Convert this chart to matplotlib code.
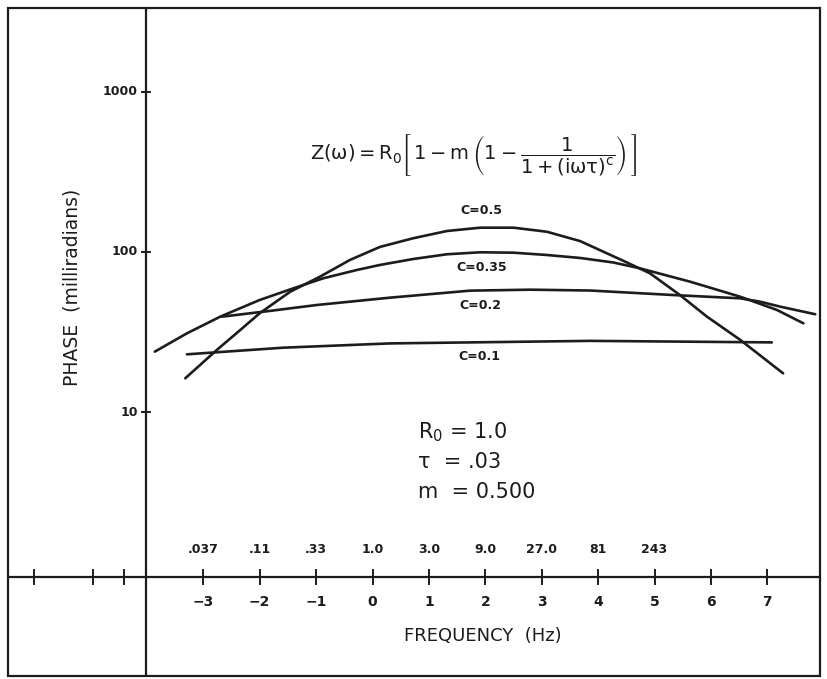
import matplotlib
matplotlib.use("Agg")
import matplotlib.pyplot as plt
import matplotlib.transforms as mtransforms
from matplotlib.patches import Rectangle

# ---------------- data ----------------
# x is log3 of frequency (0 -> 1.0 Hz, 1 -> 3.0 Hz, ...), y is phase in milliradians
x_ticks = [-3, -2, -1, 0, 1, 2, 3, 4, 5, 6, 7]
x_tick_labels = ["\u22123", "\u22122", "\u22121", "0", "1", "2", "3", "4", "5", "6", "7"]
freq_ticks = [-3, -2, -1, 0, 1, 2, 3, 4, 5]
freq_labels = [".037", ".11", ".33", "1.0", "3.0", "9.0", "27.0", "81", "243"]
left_extra_ticks = [-6.0, -4.95, -4.4]
y_ticks = [10, 100, 1000]
y_tick_labels = ["10", "100", "1000"]

c05_x = [-3.32, -2.76, -2.35, -2.00, -1.46, -0.93, -0.40, 0.13, 0.72, 1.32, 1.91,
         2.50, 3.09, 3.68, 4.45, 4.92, 5.45, 5.93, 6.52, 7.28]
c05_y = [16.3, 24.5, 32.5, 41.5, 56.5, 70.2, 89.2, 107.5, 121.8, 135.2, 141.8,
         141.8, 133.8, 117.0, 88.0, 73.6, 53.9, 39.5, 28.3, 17.5]

c035_x = [-3.86, -3.29, -2.70, -2.00, -1.40, -0.87, -0.28, 0.13, 0.72, 1.32, 1.91,
          2.50, 3.09, 3.68, 4.27, 4.74, 5.63, 6.52, 7.17, 7.64]
c035_y = [23.9, 31.1, 39.5, 50.2, 59.4, 68.6, 77.2, 83.0, 90.4, 96.8, 99.6,
          99.0, 95.8, 91.8, 86.0, 79.1, 65.3, 52.6, 43.5, 35.9]

c02_x = [-2.67, -1.82, -0.99, 0.31, 1.73, 2.80, 3.86, 5.33, 6.52, 6.87, 7.23, 7.85]
c02_y = [39.5, 42.9, 46.7, 51.9, 57.4, 58.2, 57.5, 53.9, 51.4, 49.0, 45.6, 40.9]

c01_x = [-3.29, -1.58, 0.31, 3.86, 7.08]
c01_y = [23.0, 25.3, 26.9, 27.9, 27.3]

curve_labels = ["C=0.5", "C=0.35", "C=0.2", "C=0.1"]

# ---------------- layout ----------------
W, H = 828, 679
fig = plt.figure(figsize=(W / 100, H / 100), dpi=100)
fig.patch.set_facecolor("white")
plt.rcParams["mathtext.fontset"] = "dejavusans"
plt.rcParams["mathtext.default"] = "regular"

# axes covering the outer frame
L, R, T, B = 8, 820, 8, 676
ax = fig.add_axes([L / W, 1 - B / H, (R - L) / W, (B - T) / H])
ax.set_xlim(-6.463, 7.934)
ax.set_yscale("log")
ax.set_ylim(0.2265, 3327)
ax.set_facecolor("white")
for s in ax.spines.values():
    s.set_visible(False)
ax.set_xticks([])
ax.set_yticks([])
ax.minorticks_off()

ink = "#1c1c1c"

# outer frame
fig.patches.append(Rectangle((L / W, 1 - B / H), (R - L) / W, (B - T) / H,
                             transform=fig.transFigure, fill=False,
                             edgecolor=ink, linewidth=1.6))

# axis lines
x_axis_y = 0.94
y_axis_x = -4.02
ax.axhline(x_axis_y, color=ink, lw=1.6)
ax.axvline(y_axis_x, color=ink, lw=1.6)

# x ticks (crossing marks)
tr_x = mtransforms.blended_transform_factory(ax.transData, ax.transAxes)
fy = ax.transAxes.inverted().transform(ax.transData.transform((0, x_axis_y)))[1]
tick_half = 7 / (B - T)
for xt in x_ticks + left_extra_ticks:
    ax.plot([xt, xt], [fy - tick_half, fy + tick_half], transform=tr_x, color=ink, lw=1.4)

# y ticks
tr_y = mtransforms.blended_transform_factory(ax.transAxes, ax.transData)
fx = ax.transAxes.inverted().transform(ax.transData.transform((y_axis_x, 1)))[0]
tick_halfx = 4 / (R - L)
for yt in y_ticks:
    ax.plot([fx - tick_halfx, fx + tick_halfx], [yt, yt], transform=tr_y, color=ink, lw=1.4)

# tick labels
font = "DejaVu Sans"
for xt, lab in zip(x_ticks, x_tick_labels):
    ax.text(xt, fy - 25 / (B - T), lab, transform=tr_x, ha="center", va="center",
            fontsize=10, fontweight="bold", color=ink, family=font)
for xt, lab in zip(freq_ticks, freq_labels):
    ax.text(xt, fy + 27 / (B - T), lab, transform=tr_x, ha="center", va="center",
            fontsize=9, fontweight="bold", color=ink, family=font)
for yt, lab in zip(y_ticks, y_tick_labels):
    ax.text(fx - 8 / (R - L), yt, lab, transform=tr_y, ha="right", va="center",
            fontsize=9, fontweight="bold", color=ink, family=font)

# axis titles
fig.text(483 / W, 1 - 636 / H, "FREQUENCY  (Hz)", ha="center", va="center",
         fontsize=13, color=ink, family=font)
fig.text(72 / W, 1 - 287 / H, "PHASE  (milliradians)", ha="center", va="center",
         rotation=90, fontsize=13.5, color=ink, family=font)

# curves
lw = 1.9
for xs, ys in [(c05_x, c05_y), (c035_x, c035_y), (c02_x, c02_y), (c01_x, c01_y)]:
    ax.plot(xs, ys, color=ink, lw=lw, solid_capstyle="round", solid_joinstyle="round")

# curve labels
label_pos_px = [(481, 210), (482, 268), (480, 306), (479, 356)]
for lab, (px, py) in zip(curve_labels, label_pos_px):
    fig.text(px / W, 1 - py / H, lab, ha="center", va="center", fontsize=9,
             fontweight="bold", color=ink, family=font)

# formula
fig.text(474 / W, 1 - 155 / H,
         r"$Z(\omega)=R_0\left[\,1-m\,\left(1-\dfrac{1}{1+(i\omega\tau)^{c}}\right)\,\right]$",
         ha="center", va="center", fontsize=14, color=ink)

# parameters
params = [r"$\mathregular{R_0}$ = 1.0", "\u03c4  = .03", "m  = 0.500"]
for i, p in enumerate(params):
    fig.text(418 / W, 1 - (432 + 30 * i) / H, p, ha="left", va="center",
             fontsize=15, color=ink, family=font)

fig.savefig("out.png", dpi=100, facecolor="white")
